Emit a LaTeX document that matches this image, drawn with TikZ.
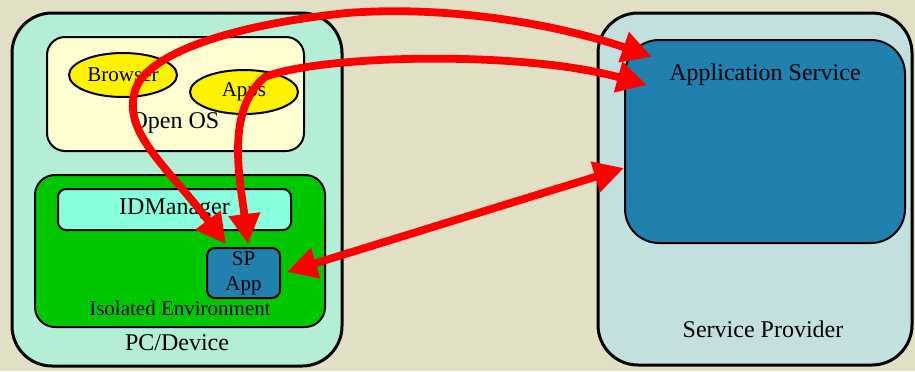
\documentclass[tikz,border=0pt]{standalone}
\usepackage{fontspec}
\setmainfont{Liberation Serif}
\usetikzlibrary{shapes.geometric,arrows.meta,calc}
\definecolor{bgbeige}{HTML}{E2E0C4}
\definecolor{devmint}{HTML}{B3EED5}
\definecolor{provgrey}{HTML}{C4E0DE}
\definecolor{oscream}{HTML}{FFFFD2}
\definecolor{isogreen}{HTML}{00C800}
\definecolor{idmaqua}{HTML}{88FFDD}
\definecolor{svcblue}{HTML}{2080AE}
\begin{document}
\begin{tikzpicture}[x=0.5pt, y=-0.5pt]
        \tikzstyle{cluster}=[draw, line width=1.5pt, inner sep=0pt, rounded corners=20pt]
        \tikzstyle{inner box}=[draw, line width=1pt, inner sep=0pt]
        \tikzstyle{app}=[draw, ellipse, fill=yellow, line width=1pt, inner sep=0pt, minimum width=54pt, minimum height=22pt, font=\fontsize{10.5}{12.5}\selectfont]
        \tikzstyle{big}=[font=\fontsize{12}{14}\selectfont]
        \tikzstyle{small}=[font=\fontsize{10.5}{12.5}\selectfont]
        \tikzstyle{link}=[red, line width=3.9pt, {Triangle[length=15pt,width=15pt]}-{Triangle[length=15pt,width=15pt]}]

        \fill[bgbeige] (0,0) rectangle (915,371);
        \useasboundingbox (0,0) rectangle (915,371);

        \node[cluster, fill=devmint, minimum width=165pt, minimum height=176.5pt] (device) at (177,189.5) {};
        \node[cluster, fill=provgrey, minimum width=157pt, minimum height=176pt] (provider) at (755,189) {};
        \node[inner box, fill=oscream, rounded corners=9pt, minimum width=128.5pt, minimum height=57pt] (openos) at (175.5,94) {};
        \node[inner box, fill=isogreen, rounded corners=10pt, minimum width=145pt, minimum height=76pt] (isolated) at (180,251) {};
        \node[inner box, fill=idmaqua, rounded corners=4pt, minimum width=116.5pt, minimum height=20.5pt, big] (idm) at (174.5,209.5) {IDManager};
        \node[inner box, fill=svcblue, rounded corners=4pt, minimum width=36.5pt, minimum height=25pt, align=center, small] (spapp) at (243.5,273) {SP\\App};
        \node[inner box, fill=svcblue, rounded corners=17pt, minimum width=140pt, minimum height=101.5pt] (appsvc) at (765,141.5) {};
        \node[app] (browser) at (123,75) {Browser};
        \node[app] (apps) at (244,92) {Apps};

        \node[big] (device_l) at (177,343) {PC/Device};
        \node[big] (openos_l) at (175,123) {Open OS};
        \node[small] (isolated_l) at (180,308) {Isolated Environment};
        \node[big] (provider_l) at (763,329) {Service Provider};
        \node[big] (appsvc_l) at (765,75) {Application Service};

        \draw[link] ($(spapp.124)+(0,-3)$) .. controls (170,170) and (125,135) .. (134,95)
            .. controls (140,55) and (230,25) .. (347,13)
            .. controls (450,5) and (560,25) .. ($(appsvc.north west)+(28,18)$);
        \draw[link] ($(spapp.80)+(0,-3)$) .. controls (240,180) and (225,110) .. (265,77)
            .. controls (320,55) and (520,50) .. ($(appsvc.north west)+(23,46)$);
        \draw[link] ($(spapp.east)+(6,-1)$) -- (appsvc.west |- 0,168);
    \end{tikzpicture}
\end{document}
